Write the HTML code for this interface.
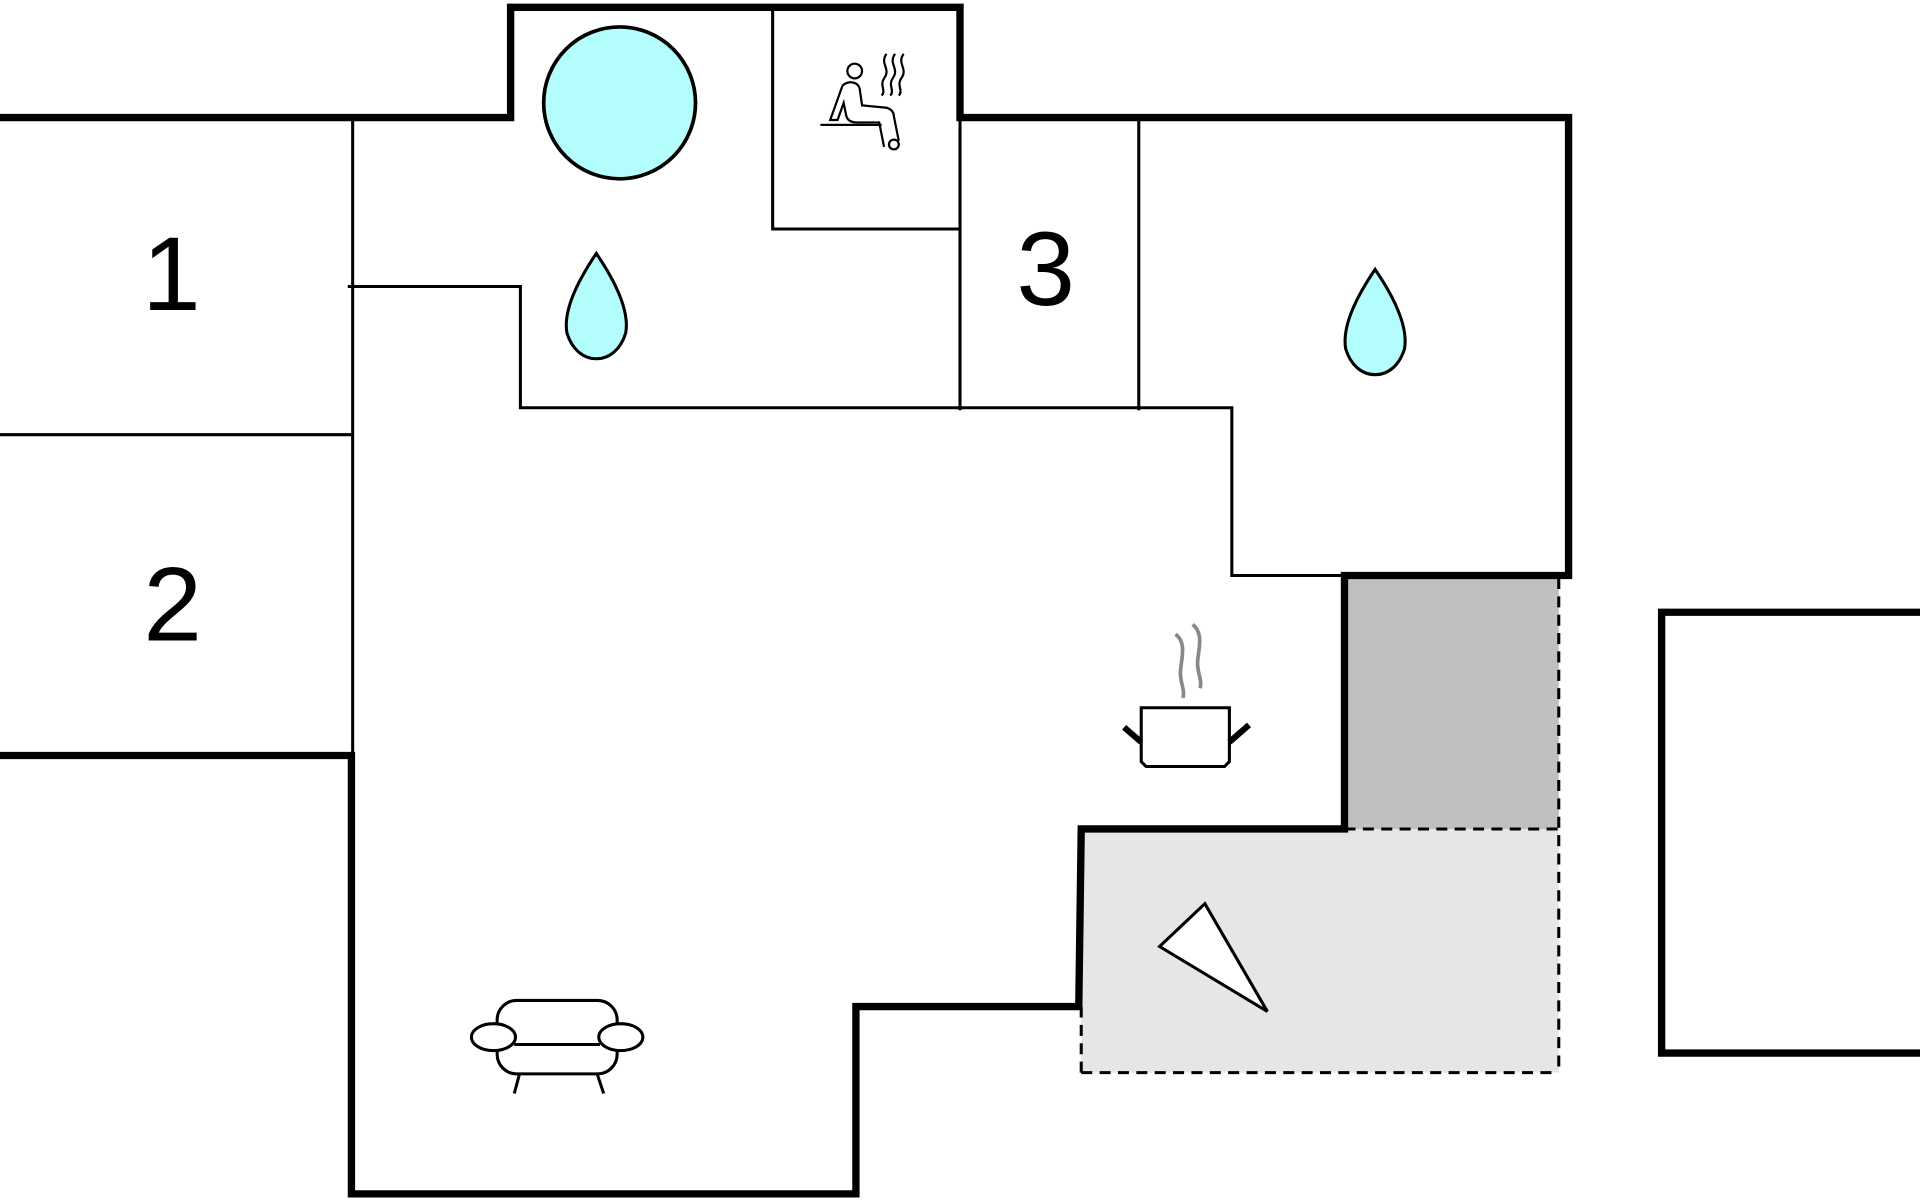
<!DOCTYPE html>
<html><head><meta charset="utf-8"><style>html,body{margin:0;padding:0;background:#fff;overflow:hidden}svg{display:block}</style></head>
<body>
<svg width="1920" height="1200" viewBox="0 0 1568 980" xmlns="http://www.w3.org/2000/svg">
<rect width="1568" height="980" fill="#fff"/>
<rect x="1100" y="472" width="173" height="205" fill="#c0c0c0"/>
<rect x="883" y="677" width="390" height="199" fill="#e6e6e6"/>
<g stroke="#000" stroke-width="2.5" fill="none" stroke-dasharray="9,6">
<line x1="1273" y1="472" x2="1273" y2="876"/>
<line x1="1098" y1="677" x2="1273" y2="677"/>
<line x1="883" y1="876" x2="1273" y2="876"/>
<line x1="883" y1="822" x2="883" y2="876"/>
</g>
<g stroke="#000" stroke-width="2.5" fill="none">
<line x1="288" y1="96" x2="288" y2="617"/>
<line x1="0" y1="355" x2="288" y2="355"/>
<polyline points="284,234 425,234 425,333 1006,333 1006,470 1098,470"/>
<polyline points="631,6 631,187 784,187"/>
<line x1="784" y1="96" x2="784" y2="335"/>
<line x1="930" y1="96" x2="930" y2="335"/>
</g>
<g stroke="#000" stroke-width="6" fill="none" stroke-linejoin="miter">
<polyline points="0,96 417,96 417,6 784,6 784,96 1281,96 1281,470 1098,470 1098,677 883,677 881,822 699,822 699,975 287,975 287,617 0,617"/>
<polyline points="1568,500 1357,500 1357,860 1568,860"/>
</g>
<circle cx="506" cy="84" r="62" fill="#b3fdfd" stroke="#000" stroke-width="3"/>
<path d="M487,207 C470,232 460,255 463,272 C467,285 476,293 487,293 C498,293 507,285 511,272 C514,255 504,232 487,207Z" fill="#b3fdfd" stroke="#000" stroke-width="2.5"/>
<path d="M1123,220 C1106,245 1096,268 1099,285 C1103,298 1112,306 1123,306 C1134,306 1143,298 1147,285 C1150,268 1140,245 1123,220Z" fill="#b3fdfd" stroke="#000" stroke-width="2.5"/>
<g font-family="Liberation Sans, sans-serif" font-size="86" text-anchor="middle" fill="#000">
<text x="140" y="253">1</text>
<text x="141" y="523">2</text>
<text x="854" y="249">3</text>
</g>
<!-- sauna -->
<g stroke="#000" stroke-width="1.8" fill="none">
<circle cx="698" cy="58" r="6"/>
<path d="M688,70 C692,66 700,66 702,72 L704,86 L724,88 C728,89 730,92 730,95 L734,115"/>
<circle cx="730" cy="118" r="4"/>
<path d="M688,70 L678,98 L684,98 L689,84 L691,94 C692,99 696,100 700,100 L718,100 L722,120"/>
<line x1="670" y1="102" x2="720" y2="102"/>
<path d="M724,44 C718,52 728,56 722,64 C718,70 724,74 720,78"/>
<path d="M731,44 C725,52 735,56 729,64 C725,70 731,74 727,78"/>
<path d="M738,44 C732,52 742,56 736,64 C732,70 738,74 734,78"/>
</g>
<!-- pot -->
<g stroke="#000" stroke-width="2.5" fill="none">
<path d="M932,578 L1004,578 L1004,622 L1000,626 L936,626 L932,622 Z" fill="#fff"/>
<path d="M932,606 L918,594 M1004,606 L1020,592" stroke-width="5"/>
</g>
<g stroke="#888" stroke-width="3" fill="none">
<path d="M960,518 C970,525 964,540 964,550 C964,558 968,564 966,570"/>
<path d="M974,510 C984,518 978,532 978,542 C978,550 982,556 980,562"/>
</g>
<!-- sofa -->
<g stroke="#000" stroke-width="2.5" fill="#fff">
<rect x="406" y="817" width="98" height="60" rx="16"/>
<line x1="420" y1="853" x2="490" y2="853"/>
<ellipse cx="403" cy="847" rx="18" ry="11"/>
<ellipse cx="507" cy="847" rx="18" ry="11"/>
<line x1="424" y1="878" x2="420" y2="893"/>
<line x1="488" y1="878" x2="493" y2="893"/>
</g>
<polygon points="947,773 984,738 1035,826" fill="#fff" stroke="#000" stroke-width="2.5"/>
</svg>
</body></html>
